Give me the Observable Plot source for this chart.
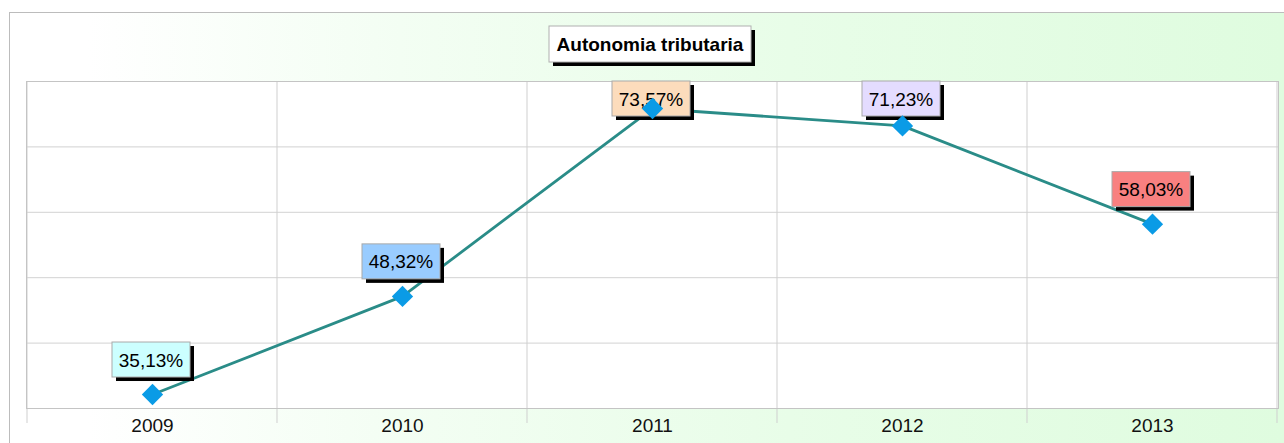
<!DOCTYPE html>
<html>
<head>
<meta charset="utf-8">
<script src="https://cdn.jsdelivr.net/npm/d3@7"></script>
<script src="https://cdn.jsdelivr.net/npm/@observablehq/plot@0.6"></script>
<style>
  html, body { margin: 0; padding: 0; background: #ffffff; overflow: hidden; }
  #wrap { position: relative; width: 1284px; height: 443px; overflow: hidden; }
  #bg { position: absolute; left: 9px; top: 12px; width: 1300px; height: 460px;
        border-left: 1.5px solid #bcbcbc; border-top: 1.5px solid #bcbcbc;
        background: linear-gradient(to right, #ffffff 6%, #f3fef3 30%, #e8fde8 60%, #dffcdf 98%); }
  #chart { position: absolute; left: 0; top: 0; }
</style>
</head>
<body>
<div id="wrap"><div id="bg"></div><div id="chart"></div></div>
<script>
const title = "Autonomia tributaria";
const years = ["2009", "2010", "2011", "2012", "2013"];
const values = [35.13, 48.32, 73.57, 71.23, 58.03];
const valueLabels = ["35,13%", "48,32%", "73,57%", "71,23%", "58,03%"];
const labelFills = ["#ccffff", "#99ccff", "#fcdcbc", "#e4dcff", "#f88080"];
const yDomain = [33.25, 77.2];
const yGrid = [33.25, 42.04, 50.83, 59.62, 68.41, 77.2];

const data = years.map((year, i) => ({year, value: values[i], label: valueLabels[i], fill: labelFills[i]}));

const FONT = "Arial, 'Liberation Sans', sans-serif";

function bandwidthOf(x) { return typeof x.bandwidth === "function" ? x.bandwidth() : 0; }

// vertical grid lines at category boundaries, extended below as ticks
function verticalGrid(index, scales, values, dims) {
  const x = scales.x, bw = bandwidthOf(x);
  const g = d3.create("svg:g");
  const y0 = dims.marginTop, y1 = dims.height - dims.marginBottom + 15;
  const xs = years.map(d => x(d)).concat([x(years[years.length - 1]) + bw]);
  xs.forEach(px => {
    g.append("line").attr("x1", px).attr("x2", px).attr("y1", y0).attr("y2", y1)
      .attr("stroke", "#cfcfcf").attr("stroke-width", 1);
  });
  return g.node();
}

// value labels: box with shadow above each point
function valueBoxes(index, scales, values, dims) {
  const x = scales.x, y = scales.y, bw = bandwidthOf(x);
  const g = d3.create("svg:g");
  const W = 78, H = 35;
  data.forEach(d => {
    const px = x(d.year) + bw / 2, py = y(d.value);
    const left = px - 1 - W / 2;
    const top = Math.max(dims.marginTop, py - 17 - H);
    g.append("rect").attr("x", left + 4).attr("y", top + 4).attr("width", W).attr("height", H).attr("fill", "#000");
    g.append("rect").attr("x", left).attr("y", top).attr("width", W).attr("height", H)
      .attr("fill", d.fill).attr("stroke", "#a9a9a9").attr("stroke-width", 1);
    g.append("text").attr("x", left + W / 2).attr("y", top + 24.5).attr("text-anchor", "middle")
      .attr("font-family", FONT).attr("font-size", 19).attr("fill", "#000").text(d.label);
  });
  return g.node();
}

// title box with shadow
function titleBox(index, scales, values, dims) {
  const g = d3.create("svg:g");
  const W = 202, H = 36;
  const cx = (dims.marginLeft + dims.width - dims.marginRight) / 2 - 2;
  const left = cx - W / 2, top = 26;
  g.append("rect").attr("x", left + 4).attr("y", top + 4).attr("width", W).attr("height", H).attr("fill", "#000");
  g.append("rect").attr("x", left).attr("y", top).attr("width", W).attr("height", H)
    .attr("fill", "#fff").attr("stroke", "#b0b0b0").attr("stroke-width", 1);
  g.append("text").attr("x", cx).attr("y", top + 25).attr("text-anchor", "middle")
    .attr("font-family", FONT).attr("font-size", 19).attr("font-weight", "bold").attr("fill", "#000").text(title);
  return g.node();
}

const chart = Plot.plot({
  width: 1284,
  height: 443,
  marginLeft: 26,
  marginRight: 6,
  marginTop: 81,
  marginBottom: 35,
  style: {background: "transparent", fontFamily: FONT, overflow: "visible"},
  x: {type: "band", domain: years, padding: 0, axis: null},
  y: {domain: yDomain, axis: null},
  marks: [
    Plot.frame({fill: "#ffffff", stroke: "none"}),
    Plot.ruleY(yGrid, {stroke: "#d2d2d2", strokeWidth: 1}),
    verticalGrid,
    Plot.frame({stroke: "#c4c4c4", strokeWidth: 1}),
    Plot.text(years, {x: d => d, frameAnchor: "bottom", lineAnchor: "top", dy: 10, fontSize: 19, fill: "#111"}),
    Plot.line(data, {x: "year", y: "value", stroke: "#2a8c88", strokeWidth: 2.8}),
    valueBoxes,
    Plot.dot(data, {x: "year", y: "value", symbol: "diamond2", r: 9.6, fill: "#0a9be6", stroke: "none"}),
    titleBox
  ]
});
document.getElementById("chart").appendChild(chart);
</script>
</body>
</html>
